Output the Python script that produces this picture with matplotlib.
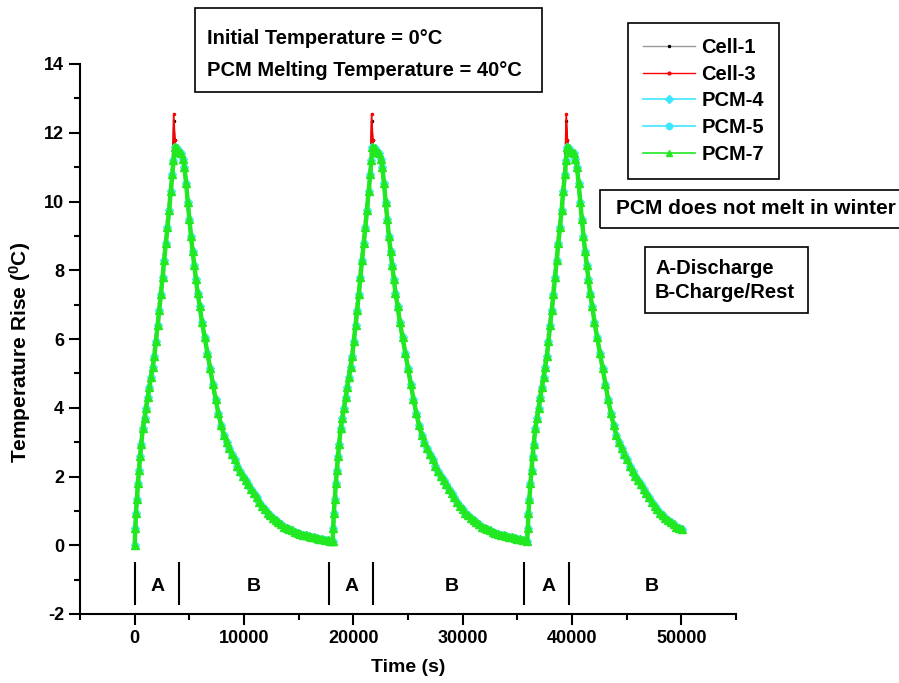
import matplotlib.pyplot as plt
import numpy as np
from matplotlib.patches import Rectangle
from matplotlib.lines import Line2D

plt.rcParams['font.family'] = ['Liberation Sans', 'DejaVu Sans']
plt.rcParams['font.weight'] = 'bold'
plt.rcParams['axes.unicode_minus'] = False
plt.rcParams['mathtext.fontset'] = 'custom'
plt.rcParams['mathtext.rm'] = 'Liberation Sans:bold'
plt.rcParams['mathtext.default'] = 'rm'

# start of each discharge cycle (s) and the temperature at that moment
cycle_start = [0, 18100, 35900]
cycle_base = [0.0, 0.12, 0.12]
t_end = 50050

# discharge (rise) part, time from cycle start
rise_t = [0, 60, 120, 200, 300, 400, 500, 600, 750, 900, 1050, 1200, 1350, 1500, 1650, 1800,
          1950, 2100, 2250, 2400, 2550, 2700, 2850, 3000, 3150, 3300, 3450, 3550, 3650]
pcm_rise = [0.1, 0.5, 0.95, 1.35, 1.8, 2.2, 2.6, 2.95, 3.4, 3.7, 4.0, 4.3, 4.6, 4.9, 5.2, 5.5,
            5.95, 6.4, 6.85, 7.3, 7.8, 8.3, 8.8, 9.25, 9.75, 10.3, 10.8, 11.2, 11.6]

# the bare cells run slightly hotter and overshoot at the end of discharge
cell_rise_t = [0, 60, 120, 200, 300, 400, 500, 600, 750, 900, 1050, 1200, 1350, 1500, 1650, 1800,
               1950, 2100, 2250, 2400, 2550, 2700, 2850, 3000, 3150, 3300, 3450, 3500, 3570, 3680, 3760]
cell1_rise = [0.1, 0.55, 1.0, 1.45, 1.9, 2.3, 2.7, 3.05, 3.5, 3.85, 4.15, 4.45, 4.75, 5.05, 5.35, 5.7,
              6.15, 6.6, 7.05, 7.5, 8.0, 8.5, 9.0, 9.45, 9.95, 10.45, 10.95, 11.4, 12.35, 11.8, 11.5]
cell3_rise = [0.1, 0.55, 1.0, 1.4, 1.85, 2.25, 2.65, 3.0, 3.45, 3.8, 4.1, 4.4, 4.7, 5.0, 5.3, 5.65,
              6.1, 6.55, 7.0, 7.45, 7.95, 8.45, 8.95, 9.4, 9.9, 10.4, 10.95, 11.5, 12.55, 11.8, 11.5]

# rest (decay) part, time after the peak at 3650 s
decay_dt = [200, 400, 600, 750, 900, 1050, 1200, 1350, 1500, 1650, 1800, 1950, 2100, 2300, 2500,
            2750, 3000, 3250, 3500, 3750, 4000, 4250, 4500, 4750, 5000, 5250, 5500, 5750, 6000,
            6250, 6500, 6750, 7000, 7250, 7500, 7750, 8000, 8250, 8500, 8750, 9000, 9250, 9500,
            9750, 10000, 10250, 10500, 10750, 11000, 11250, 11500, 11750, 12000, 12250, 12500,
            12750, 13000, 13250, 13500, 13750, 14000, 14200, 14400]
pcm_decay = [11.55, 11.45, 11.4, 11.25, 11.0, 10.55, 10.0, 9.5, 9.0, 8.55, 8.15, 7.75, 7.35, 6.95, 6.5,
             6.05, 5.6, 5.15, 4.7, 4.25, 3.85, 3.5, 3.2, 3.0, 2.82, 2.65, 2.5, 2.32, 2.15,
             2.02, 1.9, 1.78, 1.65, 1.52, 1.4, 1.27, 1.15, 1.05, 0.95, 0.87, 0.8, 0.74, 0.68,
             0.61, 0.54, 0.5, 0.46, 0.43, 0.40, 0.37, 0.34, 0.31, 0.29, 0.27, 0.25,
             0.23, 0.21, 0.19, 0.17, 0.155, 0.14, 0.13, 0.12]
peak_t = 3650

# A / B phase markers
phase_lines = [0, 4100, 17800, 21800, 35600, 39700]
phase_labels = ['A', 'B', 'A', 'B', 'A', 'B']
phase_label_x = [2100, 10900, 19800, 29000, 37900, 47300]


def build(r_t, r_v, skip_after):
    ts, vs = [], []
    for k, (s, b) in enumerate(zip(cycle_start, cycle_base)):
        stop = cycle_start[k + 1] if k + 1 < len(cycle_start) else t_end + 1
        t = [s + x for x in r_t] + [s + peak_t + d for d in decay_dt if peak_t + d > skip_after]
        v = [b] + list(r_v[1:]) + [y for d, y in zip(decay_dt, pcm_decay) if peak_t + d > skip_after]
        for a, c in zip(t, v):
            if a < stop:
                ts.append(a)
                vs.append(c)
    return np.array(ts), np.array(vs)


t_pcm, v_pcm = build(rise_t, pcm_rise, 0)
t_c1, v_c1 = build(cell_rise_t, cell1_rise, cell_rise_t[-1])
t_c3, v_c3 = build(cell_rise_t, cell3_rise, cell_rise_t[-1])

fig = plt.figure(figsize=(8.99, 6.83), dpi=100)
ax = fig.add_axes([80 / 899, 69 / 683, 656 / 899, 550 / 683])

green = '#22e822'
cyan = '#3ee6ff'
ax.plot(t_c1, v_c1, color='black', lw=1.0, marker='.', ms=3)
ax.plot(t_c3, v_c3, color='red', lw=1.2, marker='.', ms=3)
ax.plot(t_pcm, v_pcm, color=cyan, lw=2.5, marker='D', ms=4.5)
ax.plot(t_pcm, v_pcm, color='#5cf0ff', lw=2.5, marker='o', ms=4.5)
ax.plot(t_pcm, v_pcm, color=green, lw=3.2, marker='^', ms=6)

ax.set_xlim(-5000, 55000)
ax.set_ylim(-2, 14)
ax.spines['top'].set_visible(False)
ax.spines['right'].set_visible(False)
for sp in ('left', 'bottom'):
    ax.spines[sp].set_linewidth(1.5)
ax.set_xticks(np.arange(0, 50001, 10000))
ax.set_xticks(np.arange(-5000, 55001, 10000), minor=True)
ax.set_yticks(np.arange(-2, 15, 2))
ax.set_yticks(np.arange(-1, 14, 2), minor=True)
ax.tick_params(which='major', direction='out', length=8, width=1.5, labelsize=13)
ax.tick_params(which='minor', direction='out', length=4.5, width=1.5)
for lab in ax.get_xticklabels() + ax.get_yticklabels():
    lab.set_fontweight('bold')

ax.set_xlabel('Time (s)', fontsize=14, fontweight='bold', labelpad=9)
ax.set_ylabel(r'Temperature Rise ($^{0}$C)', fontsize=15, fontweight='bold', labelpad=8)
ax.yaxis.set_label_coords(-0.072, 0.475)

ax.vlines(phase_lines, -1.75, -0.5, color='black', lw=1.5)
for x, s in zip(phase_label_x, phase_labels):
    ax.text(x, -1.2, s, ha='center', va='center', fontsize=14, fontweight='bold')

# legend
leg_handles = [
    Line2D([], [], color='#999999', lw=1, marker='.', ms=3, mfc='black', mec='black'),
    Line2D([], [], color='red', lw=1, marker='.', ms=4),
    Line2D([], [], color=cyan, lw=1.2, marker='D', ms=4.5),
    Line2D([], [], color=cyan, lw=1.2, marker='o', ms=4.5),
    Line2D([], [], color=green, lw=1.2, marker='^', ms=4.5),
]
leg = fig.legend(leg_handles, ['Cell-1', 'Cell-3', 'PCM-4', 'PCM-5', 'PCM-7'],
                 loc='upper left', bbox_to_anchor=(628 / 899, 1 - 23 / 683),
                 borderaxespad=0, fancybox=False, edgecolor='black', framealpha=1,
                 fontsize=14.5, handlelength=2.6, labelspacing=0.38, borderpad=0.75,
                 handletextpad=0.3, numpoints=1)
leg.get_frame().set_linewidth(1.2)
for txt in leg.get_texts():
    txt.set_fontweight('bold')


def px_box(x0, y0, x1, y1):
    fig.patches.append(Rectangle((x0 / 899, 1 - y1 / 683), (x1 - x0) / 899, (y1 - y0) / 683,
                                 transform=fig.transFigure, fill=False, ec='black', lw=1.2))


def px_text(x, y, s, size=14.5):
    fig.text(x / 899, 1 - y / 683, s, ha='left', va='center', fontsize=size, fontweight='bold')


px_box(195, 8, 542, 92)
px_text(207, 38, 'Initial Temperature = 0°C')
px_text(207, 70, 'PCM Melting Temperature = 40°C')

px_box(600, 190, 905, 228)
px_text(616, 209, 'PCM does not melt in winter', 15)

px_box(645, 247, 808, 313)
px_text(655, 268, 'A-Discharge')
px_text(655, 293, 'B-Charge/Rest')

fig.savefig('out.png', dpi=100)
